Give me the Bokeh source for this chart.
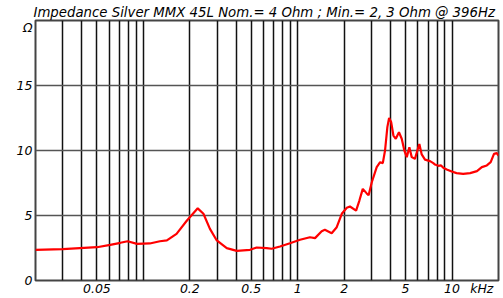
from bokeh.plotting import figure
from bokeh.models import FixedTicker
from bokeh.embed import file_html
from bokeh.resources import INLINE

# Data (frequency in kHz, impedance in Ohm)
freq_khz = [0.020, 0.030, 0.050, 0.061, 0.071, 0.079, 0.091, 0.110, 0.128, 0.142,
            0.164, 0.191, 0.225, 0.245, 0.270, 0.299, 0.347, 0.403, 0.491, 0.542,
            0.630, 0.678, 0.768, 0.891, 1.035, 1.20, 1.295, 1.43, 1.50, 1.66,
            1.79, 1.93, 2.08, 2.18, 2.39, 2.51, 2.64, 2.80, 2.88, 3.02,
            3.25, 3.42, 3.56, 3.68, 3.81, 3.91, 4.03, 4.17, 4.32, 4.53,
            4.72, 4.91, 5.09, 5.29, 5.48, 5.75, 5.96, 6.14, 6.36, 6.68,
            7.20, 7.56, 7.76, 8.15, 8.49, 8.78, 9.24, 9.95, 10.7, 11.8,
            13.1, 14.5, 15.6, 16.8, 17.8, 18.7, 19.5, 20.0]
impedance = [2.36, 2.41, 2.56, 2.74, 2.90, 3.02, 2.82, 2.85, 3.02, 3.08,
             3.59, 4.60, 5.55, 5.13, 3.97, 3.08, 2.49, 2.28, 2.36, 2.54,
             2.49, 2.44, 2.62, 2.87, 3.13, 3.33, 3.26, 3.79, 3.90, 3.64,
             4.10, 5.13, 5.59, 5.69, 5.38, 6.15, 7.05, 6.70, 6.55, 7.56,
             8.72, 9.10, 9.03, 10.0, 11.8, 12.5, 12.2, 11.15, 10.9, 11.4,
             10.9, 10.0, 9.49, 10.25, 9.49, 9.36, 10.0, 10.5, 9.70, 9.30,
             9.18, 9.03, 8.92, 8.82, 8.85, 8.67, 8.54, 8.38, 8.26, 8.20,
             8.26, 8.41, 8.72, 8.85, 9.10, 9.74, 9.80, 9.60]

x_label_ticks = [0.05, 0.2, 0.5, 1, 2, 5, 10, 15.6]
x_label_text = {0.05: "0.05", 0.2: "0.2", 0.5: "0.5", 1: "1", 2: "2", 5: "5",
                10: "10", 15.6: "kHz"}
x_grid_ticks = [0.03, 0.04, 0.05, 0.06, 0.07, 0.08, 0.09,
                0.1, 0.2, 0.3, 0.4, 0.5, 0.6, 0.7, 0.8, 0.9,
                1, 2, 3, 4, 5, 6, 7, 8, 9, 10]
y_label_ticks = [0, 5, 10, 15, 19.5]
y_label_text = {0: "0", 5: "5", 10: "10", 15: "15", 19.5: "Ω"}
y_grid_ticks = [5, 10, 15]
title_text = "Impedance Silver MMX 45L Nom.= 4 Ohm ; Min.= 2, 3 Ohm @ 396Hz"

FONT = "DejaVu Sans"

p = figure(width=503, height=298, x_axis_type="log", x_range=(0.02, 20), y_range=(0, 20),
           output_backend="svg", toolbar_location=None,
           min_border_left=35, min_border_right=5, min_border_top=20, min_border_bottom=18)
p.background_fill_color = "white"
p.border_fill_color = "white"
p.outline_line_color = "#444444"
p.outline_line_width = 2

p.title.text = title_text
p.title.text_font = FONT
p.title.text_font_style = "italic"
p.title.text_font_size = "13.3px"
p.title.text_color = "black"
p.title.align = "left"
p.title.offset = -2
p.title.standoff = 2

p.xgrid.ticker = FixedTicker(ticks=x_grid_ticks)
p.xgrid.grid_line_color = "#111111"
p.xgrid.grid_line_width = 1.5
p.ygrid.ticker = FixedTicker(ticks=y_grid_ticks)
p.ygrid.grid_line_color = "#555555"
p.ygrid.grid_line_width = 1.5

for ax in (p.xaxis[0], p.yaxis[0]):
    ax.axis_line_color = None
    ax.major_tick_line_color = None
    ax.minor_tick_line_color = None
    ax.major_tick_in = 0
    ax.major_tick_out = 0
    ax.minor_tick_in = 0
    ax.minor_tick_out = 0
    ax.major_label_text_font = FONT
    ax.major_label_text_font_style = "italic"
    ax.major_label_text_font_size = "12.5px"
    ax.major_label_text_color = "black"

p.xaxis[0].ticker = FixedTicker(ticks=x_label_ticks)
p.xaxis[0].major_label_overrides = x_label_text
p.xaxis[0].major_label_standoff = 0
p.yaxis[0].ticker = FixedTicker(ticks=y_label_ticks)
p.yaxis[0].major_label_overrides = y_label_text
p.yaxis[0].major_label_standoff = 3

p.line(freq_khz, impedance, line_color="#ff0000", line_width=2.2)

open("out.html", "w").write(file_html(p, INLINE))
